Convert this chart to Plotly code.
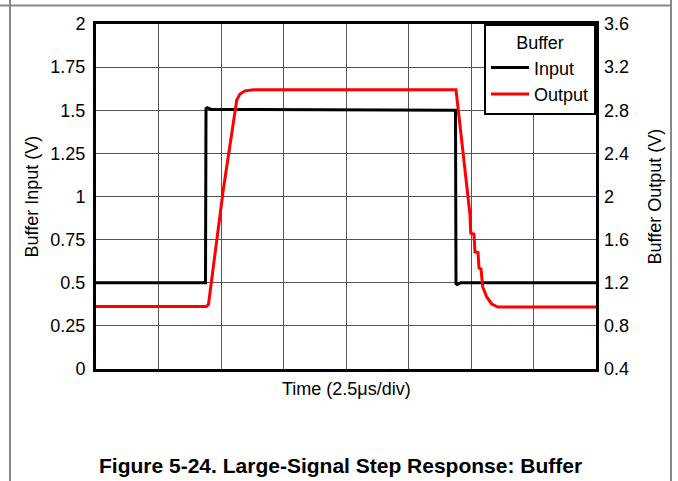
import plotly.graph_objects as go

# time in microseconds (2.5 us per division, 8 divisions)
input_t = [0, 4.38, 4.40, 4.45, 4.6, 14.38, 14.40, 14.45, 14.6, 20]
input_v = [0.5, 0.5, 1.51, 1.515, 1.505, 1.50, 0.495, 0.49, 0.5, 0.5]

output_t = [0, 4.42, 4.5, 5.09, 5.63, 5.76, 5.96, 6.3, 14.40, 14.96, 14.99, 15.12,
            15.16, 15.28, 15.32, 15.40, 15.47, 15.63, 15.83, 16.08, 16.5, 20]
output_v = [0.98, 0.98, 1.0, 2.06, 2.895, 2.95, 2.98, 2.99, 2.99, 1.83, 1.66, 1.65,
            1.485, 1.48, 1.337, 1.328, 1.161, 1.068, 1.003, 0.975, 0.975, 0.975]

left_ticks = [0, 0.25, 0.5, 0.75, 1, 1.25, 1.5, 1.75, 2]
left_labels = ["0", "0.25", "0.5", "0.75", "1", "1.25", "1.5", "1.75", "2"]
right_ticks = [0.4, 0.8, 1.2, 1.6, 2.0, 2.4, 2.8, 3.2, 3.6]
right_labels = ["0.4", "0.8", "1.2", "1.6", "2", "2.4", "2.8", "3.2", "3.6"]

FONT = "Liberation Sans, Arial, sans-serif"
W, H = 678, 481
L, R, T, B = 96, 82, 24, 112
pw, ph = W - L - R, H - T - B


def px_x(x):
    return (x - L) / pw


def px_y(y):
    return (H - B - y) / ph


fig = go.Figure()
fig.add_trace(go.Scatter(x=input_t, y=input_v, mode="lines", name="Input",
                         line=dict(color="black", width=3), yaxis="y"))
fig.add_trace(go.Scatter(x=output_t, y=output_v, mode="lines", name="Output",
                         line=dict(color="#ff0000", width=3), yaxis="y2"))

fig.update_layout(
    width=W, height=H,
    margin=dict(l=L, r=R, t=T, b=B, autoexpand=False),
    paper_bgcolor="white", plot_bgcolor="white",
    font=dict(family=FONT, size=18, color="black"),
    xaxis=dict(range=[0, 20], dtick=2.5, tick0=0, showticklabels=False, ticks="",
               showgrid=True, gridcolor="#555", gridwidth=1, zeroline=False,
               showline=True, linecolor="black", linewidth=3, mirror=True),
    yaxis=dict(range=[0, 2], tickvals=left_ticks, ticktext=left_labels, ticks="",
               showgrid=True, gridcolor="#555", gridwidth=1, zeroline=False,
               showline=True, linecolor="black", linewidth=3, mirror=True,
               ticklabelstandoff=4),
    yaxis2=dict(range=[0.4, 3.6], tickvals=right_ticks, ticktext=right_labels, ticks="",
                overlaying="y", side="right", showgrid=False, zeroline=False,
                showline=False, ticklabelstandoff=7),
    legend=dict(x=1, y=1, xanchor="right", yanchor="top", bgcolor="white",
                bordercolor="black", borderwidth=2, itemwidth=38,
                title=dict(text="Buffer", side="top center", font=dict(size=18)),
                font=dict(size=18), tracegroupgap=0),
    showlegend=True,
)

annotations = [
    dict(text="Time (2.5μs/div)", x=0.5, y=px_y(389), xref="paper", yref="paper",
         xanchor="center", yanchor="middle", showarrow=False, font=dict(size=18)),
    dict(text="Buffer Input (V)", x=px_x(31), y=0.5, xref="paper", yref="paper",
         xanchor="center", yanchor="middle", textangle=-90, showarrow=False,
         font=dict(size=18)),
    dict(text="Buffer Output (V)", x=px_x(654), y=0.5, xref="paper", yref="paper",
         xanchor="center", yanchor="middle", textangle=-90, showarrow=False,
         font=dict(size=18)),
    dict(text="<b>Figure 5-24. Large-Signal Step Response: Buffer</b>", x=px_x(340),
         y=px_y(465), xref="paper", yref="paper", xanchor="center", yanchor="middle",
         showarrow=False, font=dict(size=21)),
]
fig.update_layout(annotations=annotations)

# page frame lines
shapes = [
    dict(type="line", xref="paper", yref="paper", x0=px_x(10), x1=px_x(10),
         y0=px_y(0), y1=px_y(481), line=dict(color="#888", width=2)),
    dict(type="line", xref="paper", yref="paper", x0=px_x(671), x1=px_x(671),
         y0=px_y(0), y1=px_y(481), line=dict(color="#888", width=2)),
    dict(type="line", xref="paper", yref="paper", x0=px_x(0), x1=px_x(671),
         y0=px_y(5.5), y1=px_y(5.5), line=dict(color="#888", width=2)),
]
fig.update_layout(shapes=shapes)

fig.write_html("out.html", config={"displayModeBar": False},
               post_script="document.body.style.margin='0';")
